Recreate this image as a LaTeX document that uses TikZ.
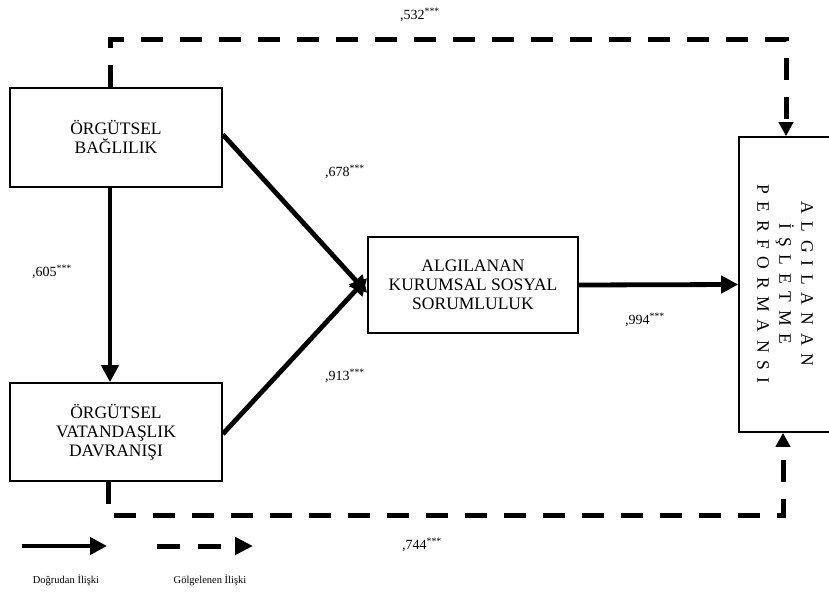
\documentclass[tikz,border=0pt]{standalone}
\usepackage{fontspec}
\setmainfont{Liberation Serif}
\newfontfamily\spacedfont[LetterSpace=44]{Liberation Serif}
\usetikzlibrary{arrows.meta,calc}
\begin{document}
\begin{tikzpicture}[x=1pt,y=-1pt,
  box/.style={draw,line width=1.6pt,align=center,font=\fontsize{17.5}{19}\selectfont,inner sep=0pt},
  solidarrow/.style={line width=4.8pt,-{Triangle[length=17pt,width=17pt]}},
  dasharrow/.style={line width=5pt,dash pattern=on 22pt off 17pt,-{Triangle[length=14pt,width=14pt]}},
  legdash/.style={line width=5pt,dash pattern=on 23pt off 18pt,-{Triangle[length=18pt,width=17pt]}},
  lbl/.style={font=\fontsize{14}{16}\selectfont},
  leg/.style={font=\fontsize{10.5}{12}\selectfont}]
\useasboundingbox (0,0) rectangle (829,593);
\node[box,minimum width=212pt,minimum height=99pt] (b1) at (116,137.5) {ÖRGÜTSEL\\BAĞLILIK};
\node[box,minimum width=212pt,minimum height=98pt] (b2) at (116,432) {ÖRGÜTSEL\\VATANDAŞLIK\\DAVRANIŞI};
\node[box,minimum width=210pt,minimum height=96pt] (b3) at (473,285) {ALGILANAN\\KURUMSAL SOSYAL\\SORUMLULUK};
\node[box,minimum width=93pt,minimum height=295pt] (b4) at (785.5,284.5) {};
\node[font=\fontsize{17.5}{22}\selectfont\spacedfont,align=center,rotate=-90] (b4t) at (785,284) {ALGILANAN\\İŞLETME\\PERFORMANSI};
% solid arrows
\draw[solidarrow] ([xshift=-6pt]b1.south) -- ([xshift=-6pt]b2.north);
\draw[solidarrow] ([yshift=3pt]b1.east) -- ([yshift=-8pt]b3.west);
\draw[solidarrow] ([yshift=-2pt]b2.east) -- ([yshift=7pt]b3.west);
\draw[solidarrow] (b3.east) -- (b4.west);
% dashed paths
\coordinate (tl) at (110,40);
\coordinate (tr) at (786,40);
\coordinate (bl) at (108,515);
\coordinate (br) at (783,515);
\draw[dasharrow] ([xshift=-6pt]b1.north) -- (tl) -- (tr) -- (b4.north -| tr);
\draw[dasharrow] ([xshift=-8pt]b2.south) -- (bl) -- (br) -- (b4.south -| br);
% labels
\node[lbl] (l532) at (420,15) {,532\textsuperscript{***}};
\node[lbl] (l605) at (52,272) {,605\textsuperscript{***}};
\node[lbl] (l678) at (345,172) {,678\textsuperscript{***}};
\node[lbl] (l913) at (345,376) {,913\textsuperscript{***}};
\node[lbl] (l994) at (645,320) {,994\textsuperscript{***}};
\node[lbl] (l744) at (422,545) {,744\textsuperscript{***}};
% legend
\coordinate (s1) at (22,546);
\coordinate (s2) at (107,546);
\draw[solidarrow] (s1) -- (s2);
\coordinate (d1) at (157,546);
\coordinate (d2) at (253,546);
\draw[legdash] (d1) -- (d2);
\node[leg] (lg1) at (66,580) {Doğrudan İlişki};
\node[leg] (lg2) at (210,580) {Gölgelenen İlişki};
\end{tikzpicture}
\end{document}
